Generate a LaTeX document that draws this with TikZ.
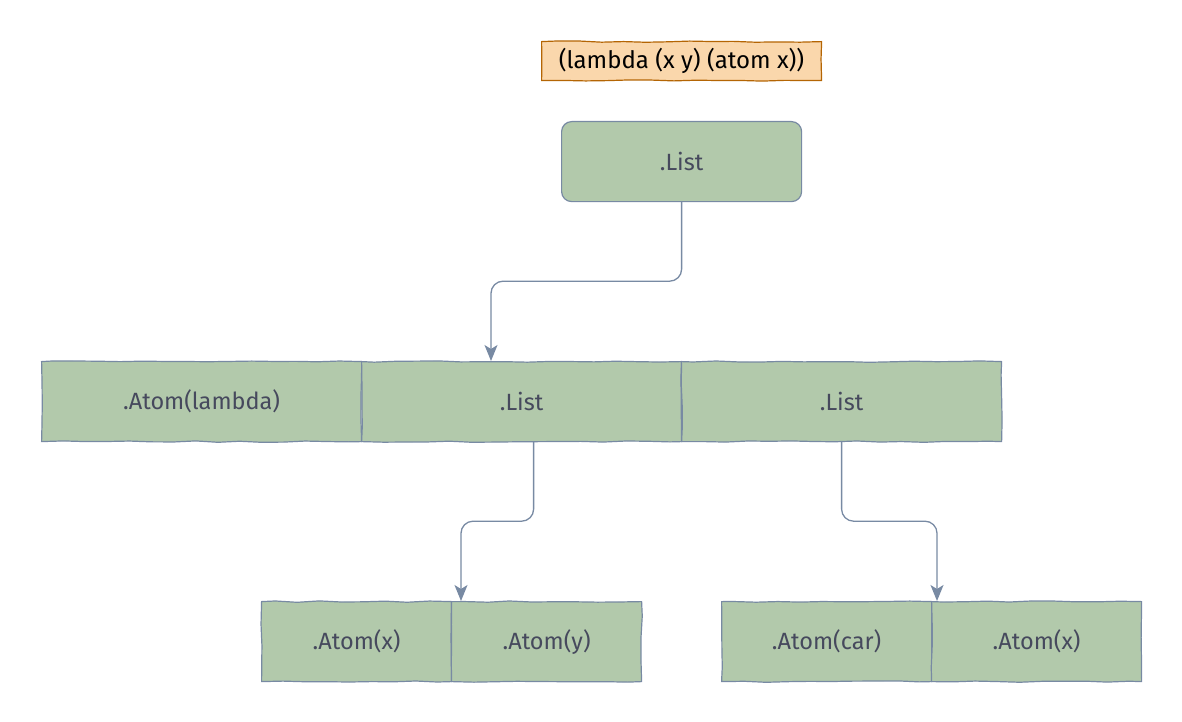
\documentclass[tikz,border=0pt]{standalone}
\usepackage{fontspec}
\setmainfont{Fira Sans}
\usetikzlibrary{calc,arrows.meta,decorations.pathmorphing}
\definecolor{cellc}{HTML}{B2C9AB}
\definecolor{edgec}{HTML}{788AA3}
\definecolor{txtc}{HTML}{46495D}
\definecolor{titlefill}{HTML}{FAD7AC}
\definecolor{titleedge}{HTML}{B46504}
\begin{document}
\begin{tikzpicture}[x=1pt,y=-1pt,
  sketch/.style={decorate, decoration={random steps, segment length=22pt, amplitude=0.7pt}},
  cellbase/.style={draw=edgec, fill=cellc, line width=1.2pt, text=txtc,
    font=\fontsize{23.5}{28}\selectfont, minimum height=80pt, inner sep=0pt,
    anchor=north west},
  cell/.style={cellbase, sketch},
  titlebox/.style={draw=titleedge, fill=titlefill, line width=1.2pt, text=black,
    font=\fontsize{24}{28}\selectfont, minimum width=280pt, minimum height=39pt,
    inner sep=0pt, anchor=north west, sketch},
  conn/.style={draw=edgec, line width=1.3pt, rounded corners=12pt,
    -{Stealth[length=16pt,width=13pt,inset=4pt]}}
]
\pgfmathsetseed{7}
\useasboundingbox (0,0) rectangle (1182,722);
\node[titlebox] (T) at (541,41) {(lambda (x y) (atom x))};
\node[cellbase, minimum width=240pt, rounded corners=10pt] (L0) at (561,121) {.List};
\node[cell, minimum width=320pt] (R0) at (41,361) {.Atom(lambda)};
\node[cell, minimum width=320pt] (R1) at (361,361) {.List};
\node[cell, minimum width=320pt] (R2) at (681,361) {.List};
\node[cell, minimum width=190pt] (B0) at (261,601) {.Atom(x)};
\node[cell, minimum width=190pt] (B1) at (451,601) {.Atom(y)};
\node[cell, minimum width=210pt] (C0) at (721,601) {.Atom(car)};
\node[cell, minimum width=210pt] (C1) at (931,601) {.Atom(x)};
\coordinate (e1) at ($(R1.north west)+(130,0)$);
\coordinate (s2) at ($(R1.south)+(12,0)$);
\coordinate (e2) at ($(B1.north west)+(10,0)$);
\coordinate (e3) at ($(C1.north west)+(6,0)$);
\draw[conn] (L0.south) -- ++(0,79) -| (e1);
\draw[conn] (s2) -- ++(0,79) -| (e2);
\draw[conn] (R2.south) -- ++(0,79) -| (e3);
\end{tikzpicture}
\end{document}
